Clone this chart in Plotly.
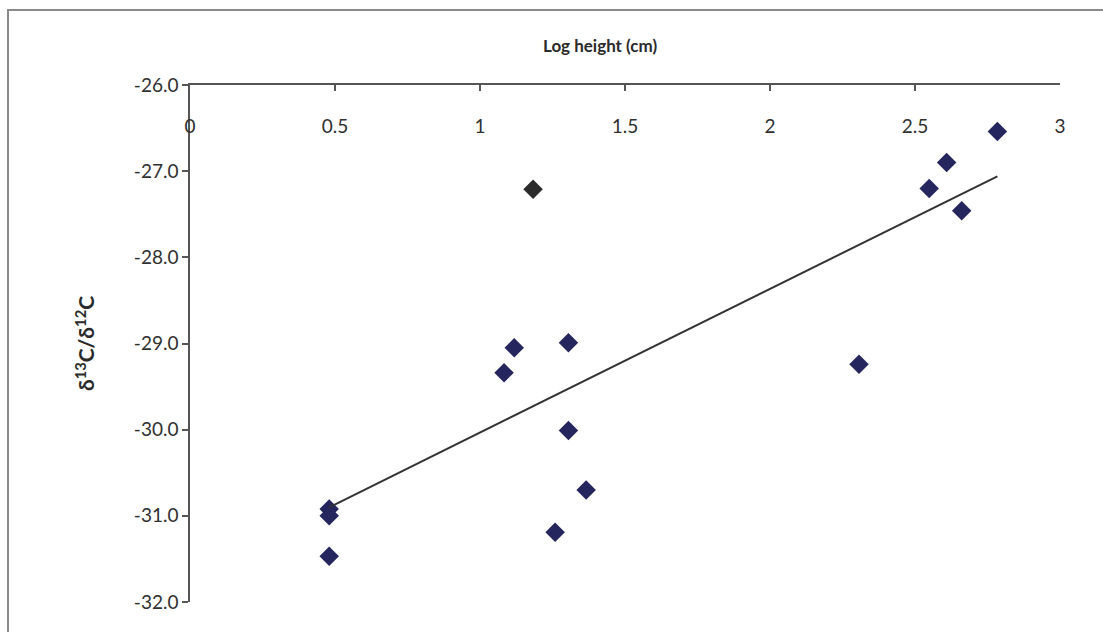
import numpy as np
import plotly.graph_objects as go

# Data
log_height = [0.48, 0.48, 0.48, 1.083, 1.118, 1.305, 1.305, 1.259, 1.366,
              2.307, 2.549, 2.609, 2.661, 2.784]
delta13c = [-31.47, -30.92, -31.00, -29.34, -29.05, -28.99, -30.01, -31.19, -30.70,
            -29.24, -27.20, -26.90, -27.46, -26.54]
outlier_x = [1.183]
outlier_y = [-27.21]

x_tick_vals = [0, 0.5, 1, 1.5, 2, 2.5, 3]
x_tick_text = ["0", "0.5", "1", "1.5", "2", "2.5", "3"]
y_tick_vals = [-32, -31, -30, -29, -28, -27, -26]
y_tick_text = ["-32.0", "-31.0", "-30.0", "-29.0", "-28.0", "-27.0", "-26.0"]

all_x = np.array(log_height + outlier_x)
all_y = np.array(delta13c + outlier_y)
slope, intercept = np.polyfit(all_x, all_y, 1)
trend_x = [all_x.min(), all_x.max()]
trend_y = [slope * v + intercept for v in trend_x]

FONT = "Lato"
TXT = "#303030"

fig = go.Figure()
fig.add_trace(go.Scatter(
    x=trend_x, y=trend_y, mode="lines", xaxis="x2", yaxis="y",
    line=dict(color="#333333", width=2), hoverinfo="skip", showlegend=False))
fig.add_trace(go.Scatter(
    x=log_height, y=delta13c, mode="markers",
    marker=dict(symbol="diamond", size=15, color="#26265e",
                line=dict(width=0)), showlegend=False))
fig.add_trace(go.Scatter(
    x=outlier_x, y=outlier_y, mode="markers",
    marker=dict(symbol="diamond", size=15, color="#2b2b2b",
                line=dict(width=0)), showlegend=False))

W, H = 1103, 632
L, R, T, B = 190, 43, 85, 30
pw, ph = W - L - R, H - T - B

def px_to_paper_x(px):
    return (px - L) / pw

def px_to_paper_y(py):
    return (H - B - py) / ph

fig.update_layout(
    width=W, height=H,
    margin=dict(l=L, r=R, t=T, b=B, autoexpand=False),
    paper_bgcolor="white", plot_bgcolor="white",
    font=dict(family=FONT, color=TXT, size=19),
    xaxis=dict(
        side="top", range=[0, 3], tickvals=x_tick_vals, showticklabels=False,
        ticks="inside", ticklen=6, tickcolor="#555555", tickwidth=1.5,
        showline=True, linecolor="#555555", linewidth=1.5,
        showgrid=False, zeroline=False, fixedrange=True),
    xaxis2=dict(
        overlaying="x", side="top", anchor="free",
        position=px_to_paper_y(137), range=[0, 3],
        tickvals=x_tick_vals, ticktext=x_tick_text, ticks="", ticklen=0,
        showline=False, showgrid=False, zeroline=False,
        tickfont=dict(family=FONT, size=19, color=TXT)),
    yaxis=dict(
        range=[-32, -26], tickvals=y_tick_vals, ticktext=y_tick_text,
        ticks="outside", ticklen=6, tickcolor="#555555", tickwidth=1.5,
        showline=True, linecolor="#555555", linewidth=1.5,
        showgrid=False, zeroline=False,
        tickfont=dict(family=FONT, size=19, color=TXT),
        title=dict(text="<b>δ<sup>13</sup>C/δ<sup>12</sup>C</b>",
                   font=dict(family=FONT, size=21, color="#2a2a2a"),
                   standoff=33)),
    shapes=[dict(type="rect", xref="paper", yref="paper",
                 x0=px_to_paper_x(8), x1=px_to_paper_x(1115),
                 y0=px_to_paper_y(650), y1=px_to_paper_y(10),
                 line=dict(color="#8a8a8a", width=2), fillcolor="rgba(0,0,0,0)",
                 layer="above")],
    annotations=[dict(text="<b>Log height (cm)</b>", xref="paper", yref="paper",
                      x=px_to_paper_x(600), y=px_to_paper_y(45),
                      showarrow=False, xanchor="center", yanchor="middle",
                      font=dict(family=FONT, size=17, color="#2a2a2a"))],
)

fig.write_html("out.html")
